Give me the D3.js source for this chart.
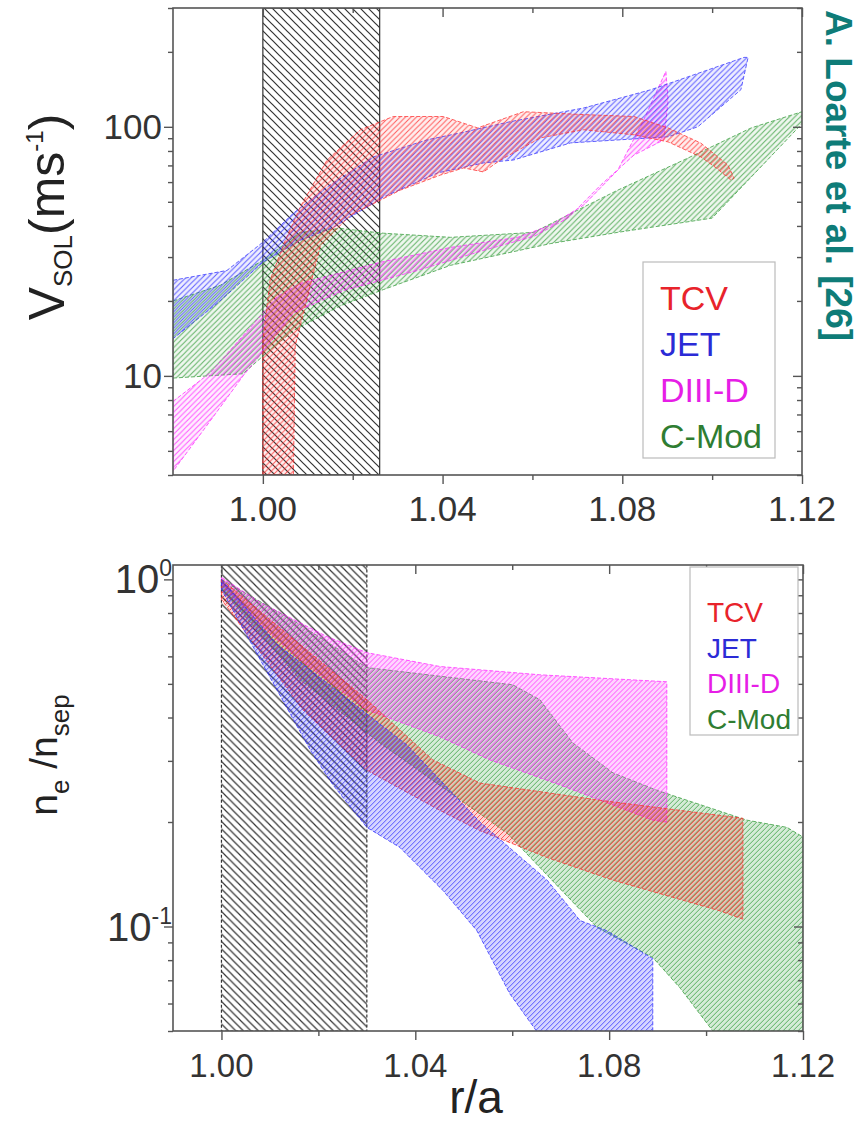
<!DOCTYPE html>
<html>
<head>
<meta charset="utf-8">
<script src="https://cdnjs.cloudflare.com/ajax/libs/d3/7.8.5/d3.min.js"></script>
<style>
  body { margin: 0; background: #fff; }
  svg { display: block; font-family: "Liberation Sans", Arial, sans-serif; }
</style>
</head>
<body>
<script>
// each band is an upper and a lower edge, points are [r/a, value]
const seriesNames = ["TCV", "JET", "DIII-D", "C-Mod"];
const bandColors = ["#ff2b2b", "#2b2bff", "#ff22ff", "#2f9a35"];
const legendColors = ["#e8232b", "#2b2bd6", "#e61ee6", "#2f7d32"];

// V_SOL (m/s)
const tcvVUpper = [[1.000,4],[1.000,13.8],[1.0016,24.2],[1.005,35],[1.0083,47.6],[1.0143,73.6],[1.0217,97.3],[1.029,110],[1.0402,110],[1.0478,99],[1.0529,106.7],[1.058,115],[1.0714,112],[1.0826,110],[1.0902,99],[1.0975,86],[1.1035,70.3],[1.1049,62.2]];
const tcvVLower = [[1.0068,4],[1.0072,13.2],[1.009,17.8],[1.0128,33.4],[1.0195,44.2],[1.0306,55.7],[1.0395,64],[1.0447,68.4],[1.0491,65.9],[1.0529,73.6],[1.0618,90.3],[1.0714,97.3],[1.0826,92.9],[1.0902,87],[1.0975,75.7],[1.1009,68.4],[1.1042,61.1]];
const jetVUpper = [[0.98,24.2],[0.992,26.5],[1.0,34.4],[1.0068,45],[1.0143,57.3],[1.0246,75.7],[1.0366,88.7],[1.044,94.6],[1.0552,105],[1.0714,119],[1.0864,141],[1.1071,190],[1.108,190]];
const jetVLower = [[0.98,14.1],[0.9905,20],[1.0,28.6],[1.0083,35],[1.0157,39.5],[1.0268,52.2],[1.0389,65.3],[1.0491,71.6],[1.0558,73.6],[1.0685,86.2],[1.0902,91.2],[1.0968,100],[1.1064,141]];
const diiidVUpper = [[0.98,7.9],[0.9883,10.3],[0.9956,14.5],[1.0032,20.8],[1.0083,23.5],[1.0262,28.6],[1.0418,32.8],[1.0567,36],[1.0641,40.3],[1.0714,48.5],[1.079,67],[1.0848,107],[1.0897,167]];
const diiidVLower = [[0.98,4.14],[0.9883,6.6],[0.9956,10],[1.0016,13.6],[1.0068,17.9],[1.0179,22],[1.0344,26.5],[1.0491,31.9],[1.0603,36.3],[1.0679,43],[1.0752,58.4],[1.0826,77],[1.0893,88.7],[1.0902,128]];
const cmodVUpper = [[0.98,20],[0.9905,23.1],[1.0,29.1],[1.0083,37.7],[1.0172,39.1],[1.0268,37.4],[1.0418,36],[1.0603,37.7],[1.0714,47.6],[1.079,55.7],[1.0937,73.6],[1.1087,99],[1.12,115]];
const cmodVLower = [[0.98,9.8],[0.9956,10.2],[1.0,12],[1.0068,15.2],[1.0172,19.1],[1.0268,22.2],[1.0418,27.8],[1.0641,34],[1.079,37.7],[1.1,43],[1.12,103]];

// n_e / n_sep
const tcvNUpper = [[1.0,1.0],[1.0162,0.649],[1.030,0.450],[1.0436,0.302],[1.0533,0.259],[1.0781,0.231],[1.1076,0.205]];
const tcvNLower = [[1.0,0.875],[1.0168,0.421],[1.030,0.282],[1.0451,0.216],[1.0533,0.189],[1.0672,0.158],[1.0808,0.136],[1.1028,0.111],[1.1076,0.105]];
const jetNUpper = [[1.0,1.0],[1.0115,0.649],[1.0244,0.471],[1.0383,0.333],[1.0533,0.200],[1.0672,0.136],[1.074,0.104],[1.0795,0.0973],[1.089,0.0808]];
const jetNLower = [[1.0,0.936],[1.008,0.587],[1.0183,0.323],[1.023,0.256],[1.030,0.193],[1.0368,0.169],[1.0457,0.127],[1.0527,0.0973],[1.0595,0.064],[1.065,0.05],[1.089,0.05]];
const diiidNUpper = [[1.0,1.013],[1.008,0.858],[1.0218,0.684],[1.030,0.615],[1.0451,0.561],[1.0657,0.531],[1.0919,0.507]];
const diiidNLower = [[1.0,0.967],[1.008,0.741],[1.0162,0.587],[1.030,0.421],[1.0451,0.352],[1.0554,0.302],[1.0698,0.256],[1.089,0.2025],[1.0919,0.1998]];
const cmodNUpper = [[1.0,1.0],[1.0162,0.741],[1.030,0.557],[1.0601,0.497],[1.0657,0.450],[1.0725,0.338],[1.0808,0.277],[1.0898,0.247],[1.1084,0.2025],[1.1167,0.193],[1.12,0.181]];
const cmodNLower = [[1.0,0.936],[1.0162,0.514],[1.0327,0.338],[1.0589,0.186],[1.0775,0.0994],[1.089,0.0814],[1.0946,0.0666],[1.1014,0.05],[1.12,0.05]];

// axes
const topXDomain = [0.98, 1.12];
const topYDomain = [4, 300];
const botXDomain = [0.99, 1.12];
const botYDomain = [0.05, 1.1];
const xMajorTicks = [1.00, 1.04, 1.08, 1.12];
const xMinorTicks = [1.02, 1.06, 1.10];
const topYLabels = [10, 100];
const botYLabels = [[0.1, "10", "-1"], [1, "10", "0"]];
// separatrix region, hatched grey
const sepTop = [1.00, 1.026];
const sepBottom = [1.00, 1.03];

const svg = d3.select("body").append("svg")
  .attr("width", 858)
  .attr("height", 1123);
const defs = svg.append("defs");

// "/" hatching for the bands, shifted per series so overlaps interleave
function makeHatch(id, color, gap, width, shift) {
  let p = defs.append("pattern")
    .attr("id", id)
    .attr("patternUnits", "userSpaceOnUse")
    .attr("patternTransform", `translate(${shift},0)`)
    .attr("width", gap)
    .attr("height", gap);
  p.append("path")
    .attr("d", `M0,${gap} L${gap},0 M${-gap/2},${gap/2} L${gap/2},${-gap/2} M${gap/2},${gap*1.5} L${gap*1.5},${gap/2}`)
    .attr("stroke", color)
    .attr("stroke-width", width);
}
// "\" hatching for the grey region
function makeBackHatch(id, color, gap, width) {
  let p = defs.append("pattern")
    .attr("id", id)
    .attr("patternUnits", "userSpaceOnUse")
    .attr("width", gap)
    .attr("height", gap);
  p.append("path")
    .attr("d", `M0,0 L${gap},${gap} M${-gap/2},${gap/2} L${gap/2},${gap*1.5} M${gap/2},${-gap/2} L${gap*1.5},${gap/2}`)
    .attr("stroke", color)
    .attr("stroke-width", width);
}

bandColors.forEach((c, i) => {
  makeHatch("hatchTop" + i, c, 5.5, 1, i * 1.4);
  makeHatch("hatchBot" + i, c, 5, 1, i * 1.25);
});
makeBackHatch("sepHatchTop", "#333", 8, 1.2);
makeBackHatch("sepHatchBot", "#333", 7.5, 1.2);

function drawPanel(cfg) {
  let x = d3.scaleLinear().domain(cfg.xDomain).range([cfg.left, cfg.right]);
  let y = d3.scaleLog().domain(cfg.yDomain).range([cfg.bottom, cfg.top]);
  let g = svg.append("g");

  defs.append("clipPath").attr("id", cfg.id + "Clip")
    .append("rect")
    .attr("x", cfg.left).attr("y", cfg.top)
    .attr("width", cfg.right - cfg.left)
    .attr("height", cfg.bottom - cfg.top);

  let plot = g.append("g").attr("clip-path", `url(#${cfg.id}Clip)`);

  // grey separatrix box
  plot.append("rect")
    .attr("x", x(cfg.sep[0]))
    .attr("y", cfg.top)
    .attr("width", x(cfg.sep[1]) - x(cfg.sep[0]))
    .attr("height", cfg.bottom - cfg.top)
    .attr("fill", `url(#${cfg.sepHatch})`)
    .attr("stroke", "#333")
    .attr("stroke-width", 1.2)
    .attr("stroke-dasharray", cfg.sepDash);

  let line = d3.line()
    .x((d) => x(d[0]))
    .y((d) => y(d[1]))
    .curve(d3.curveLinearClosed);

  cfg.bands.forEach((b) => {
    let poly = b.upper.concat(b.lower.slice().reverse());
    let c = bandColors[b.idx];
    plot.append("path")
      .datum(poly)
      .attr("d", line)
      .attr("fill", c)
      .attr("fill-opacity", cfg.tint);
    plot.append("path")
      .datum(poly)
      .attr("d", line)
      .attr("fill", `url(#${cfg.hatch}${b.idx})`)
      .attr("opacity", 0.75)
      .attr("stroke", c)
      .attr("stroke-width", 1)
      .attr("stroke-dasharray", "4,2");
  });

  // axes, ticks all pointing the same way as in Origin
  let majorX = d3.axisBottom(x).tickValues(xMajorTicks).tickSize(9).tickFormat("");
  let minorX = d3.axisBottom(x).tickValues(xMinorTicks).tickSize(5).tickFormat("");
  g.append("g").attr("transform", `translate(0,${cfg.bottom})`).call(majorX);
  g.append("g").attr("transform", `translate(0,${cfg.bottom})`).call(minorX);
  g.append("g").attr("transform", `translate(0,${cfg.top})`)
    .call(d3.axisTop(x).tickValues(xMajorTicks).tickSize(-9).tickFormat(""));
  g.append("g").attr("transform", `translate(0,${cfg.top})`)
    .call(d3.axisTop(x).tickValues(xMinorTicks).tickSize(-5).tickFormat(""));

  let allY = y.ticks();
  let majY = allY.filter((v) => Math.abs(Math.log10(v) - Math.round(Math.log10(v))) < 1e-6);
  let minY = allY.filter((v) => majY.indexOf(v) < 0);
  g.append("g").attr("transform", `translate(${cfg.left},0)`)
    .call(d3.axisLeft(y).tickValues(majY).tickSize(9).tickFormat(""));
  g.append("g").attr("transform", `translate(${cfg.left},0)`)
    .call(d3.axisLeft(y).tickValues(minY).tickSize(5).tickFormat(""));
  g.append("g").attr("transform", `translate(${cfg.right},0)`)
    .call(d3.axisRight(y).tickValues(majY).tickSize(-9).tickFormat(""));
  g.append("g").attr("transform", `translate(${cfg.right},0)`)
    .call(d3.axisRight(y).tickValues(minY).tickSize(-5).tickFormat(""));

  g.selectAll(".domain").remove();
  g.selectAll(".tick line").attr("stroke", "#555").attr("stroke-width", 1.4);

  g.append("rect")
    .attr("x", cfg.left).attr("y", cfg.top)
    .attr("width", cfg.right - cfg.left)
    .attr("height", cfg.bottom - cfg.top)
    .attr("fill", "none")
    .attr("stroke", "#555")
    .attr("stroke-width", 1.6);

  // x tick labels
  g.selectAll(".xlab")
    .data(xMajorTicks)
    .enter()
    .append("text")
    .attr("x", (d) => x(d))
    .attr("y", cfg.xLabelY)
    .attr("text-anchor", "middle")
    .attr("fill", "#333")
    .style("font-size", cfg.labelSize + "px")
    .text((d) => d3.format(".2f")(d));

  return { x: x, y: y, g: g };
}

function drawLegend(x0, y0, w, h, tx, firstBase, step, size) {
  svg.append("rect")
    .attr("x", x0).attr("y", y0)
    .attr("width", w).attr("height", h)
    .attr("fill", "#fff")
    .attr("stroke", "#bbb")
    .attr("stroke-width", 1.2);
  seriesNames.forEach((name, i) => {
    svg.append("text")
      .attr("x", tx)
      .attr("y", firstBase + i * step)
      .attr("fill", legendColors[i])
      .style("font-size", size + "px")
      .text(name);
  });
}

// upper panel: SOL flow velocity
let velPanel = drawPanel({
  id: "vel", left: 173, right: 802, top: 8, bottom: 475,
  xDomain: topXDomain, yDomain: topYDomain, sep: sepTop,
  sepHatch: "sepHatchTop", sepDash: null, hatch: "hatchTop", tint: 0.08,
  xLabelY: 521, labelSize: 35,
  bands: [
    { idx: 3, upper: cmodVUpper, lower: cmodVLower },
    { idx: 2, upper: diiidVUpper, lower: diiidVLower },
    { idx: 1, upper: jetVUpper, lower: jetVLower },
    { idx: 0, upper: tcvVUpper, lower: tcvVLower }
  ]
});
velPanel.g.selectAll(".ylab")
  .data(topYLabels)
  .enter()
  .append("text")
  .attr("x", 162)
  .attr("y", (d) => velPanel.y(d) + 12)
  .attr("text-anchor", "end")
  .attr("fill", "#333")
  .style("font-size", "35px")
  .text((d) => d);

// lower panel: normalised density
let denPanel = drawPanel({
  id: "den", left: 173, right: 803, top: 565, bottom: 1031,
  xDomain: botXDomain, yDomain: botYDomain, sep: sepBottom,
  sepHatch: "sepHatchBot", sepDash: "3,2", hatch: "hatchBot", tint: 0.2,
  xLabelY: 1077, labelSize: 33,
  bands: [
    { idx: 3, upper: cmodNUpper, lower: cmodNLower },
    { idx: 2, upper: diiidNUpper, lower: diiidNLower },
    { idx: 0, upper: tcvNUpper, lower: tcvNLower },
    { idx: 1, upper: jetNUpper, lower: jetNLower }
  ]
});
botYLabels.forEach((d) => {
  let t = denPanel.g.append("text")
    .attr("x", 172)
    .attr("y", denPanel.y(d[0]) + 14)
    .attr("text-anchor", "end")
    .attr("fill", "#333")
    .style("font-size", "40px");
  t.append("tspan").text(d[1]);
  t.append("tspan").attr("dy", -17).style("font-size", "23px").text(d[2]);
});

drawLegend(643, 262, 132, 196, 660, 310, 46, 34);
drawLegend(690, 567, 108, 168, 707, 622, 35.5, 28);

// axis titles
let yTop = svg.append("text")
  .attr("transform", "translate(64,217) rotate(-90)")
  .attr("text-anchor", "middle")
  .attr("fill", "#222")
  .style("font-size", "50px");
yTop.append("tspan").text("V");
yTop.append("tspan").attr("dy", 8).style("font-size", "26px").text("SOL");
yTop.append("tspan").attr("dy", -8).text("(ms");
yTop.append("tspan").attr("dy", -21).style("font-size", "24px").text("-1");
yTop.append("tspan").attr("dy", 21).text(")");

let yBot = svg.append("text")
  .attr("transform", "translate(57,755) rotate(-90)")
  .attr("text-anchor", "middle")
  .attr("fill", "#222")
  .style("font-size", "39px");
yBot.append("tspan").text("n");
yBot.append("tspan").attr("dy", 12).style("font-size", "26px").text("e");
yBot.append("tspan").attr("dy", -12).text(" /n");
yBot.append("tspan").attr("dy", 12).style("font-size", "26px").text("sep");

svg.append("text")
  .attr("x", 476)
  .attr("y", 1113)
  .attr("text-anchor", "middle")
  .attr("fill", "#222")
  .style("font-size", "46px")
  .text("r/a");

svg.append("text")
  .attr("transform", "translate(826,10) rotate(90)")
  .attr("fill", "#0e7c78")
  .style("font-size", "37px")
  .style("font-weight", "bold")
  .text("A. Loarte et al. [26]");
</script>
</body>
</html>
